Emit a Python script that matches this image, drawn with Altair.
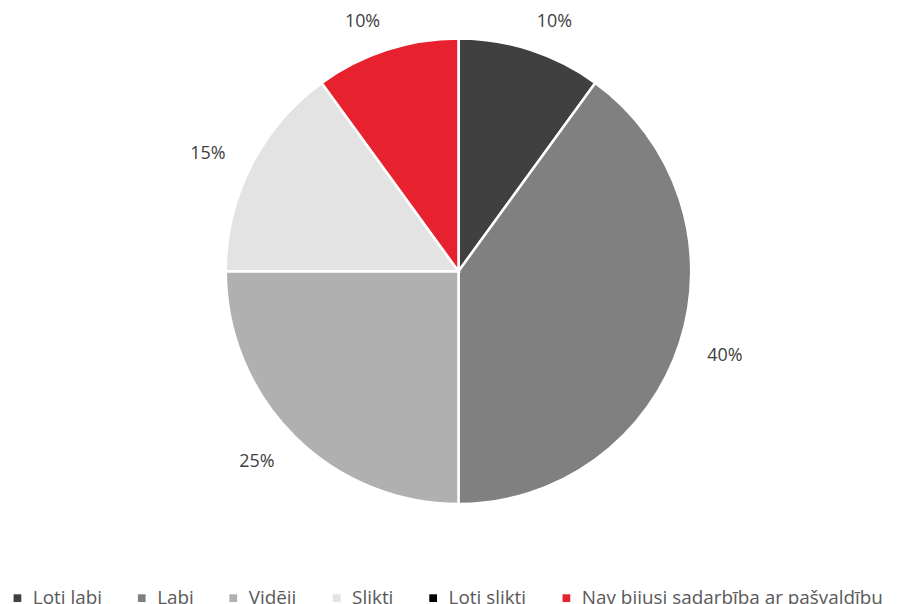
import altair as alt
import pandas as pd

categories = ["Ļoti labi", "Labi", "Vidēji", "Slikti", "Ļoti slikti", "Nav bijusi sadarbība ar pašvaldību"]
values = [10, 40, 25, 15, 0, 10]
colors = ["#404040", "#808080", "#b0b0b0", "#e3e3e3", "#000000", "#e7212d"]
right_side = ["Ļoti labi", "Labi"]

df = pd.DataFrame({"cat": categories, "val": values, "idx": list(range(len(categories)))})
df["label"] = df["val"].astype(str) + "%"
df["right"] = df["cat"].isin(right_side)
df["lab_r"] = [l if (r and v > 0) else "" for l, r, v in zip(df["label"], df["right"], df["val"])]
df["lab_l"] = [l if ((not r) and v > 0) else "" for l, r, v in zip(df["label"], df["right"], df["val"])]

FONT = "Open Sans"

base = alt.Chart(df).encode(
    theta=alt.Theta("val:Q", stack=True),
    order=alt.Order("idx:Q"),
)

pie = base.mark_arc(outerRadius=234, stroke="white", strokeWidth=2.5).encode(
    color=alt.Color(
        "cat:N",
        scale=alt.Scale(domain=categories, range=colors),
        sort=categories,
        legend=alt.Legend(
            title=None,
            orient="none",
            direction="horizontal",
            legendX=-2,
            legendY=582,
            symbolType="square",
            symbolSize=60,
            symbolStrokeWidth=0,
            labelFont=FONT,
            labelFontSize=19,
            labelColor="#595959",
            labelOffset=6,
            columnPadding=30,
            labelLimit=400,
        ),
    )
)

labels_r = base.mark_text(
    radius=267, dx=14, dy=3, font=FONT, fontSize=18, color="#404040"
).encode(text="lab_r:N")

labels_l = base.mark_text(
    radius=267, dx=-14, dy=3, font=FONT, fontSize=18, color="#404040"
).encode(text="lab_l:N")

chart = (
    alt.layer(pie, labels_r, labels_l)
    .properties(width=902, height=526, padding=0)
    .configure_view(stroke=None)
)

chart.save("out.html", embed_options={"renderer": "svg", "actions": False})
